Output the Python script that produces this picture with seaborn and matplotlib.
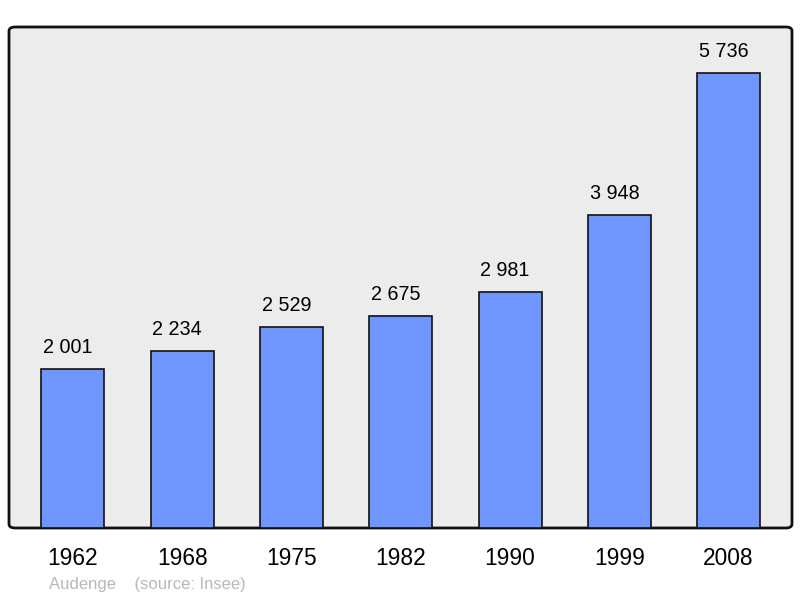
import matplotlib
matplotlib.use("Agg")
import matplotlib.pyplot as plt
from matplotlib.patches import FancyBboxPatch
import pandas as pd
import seaborn as sns

years = ["1962", "1968", "1975", "1982", "1990", "1999", "2008"]
population = [2001, 2234, 2529, 2675, 2981, 3948, 5736]
value_labels = ["2 001", "2 234", "2 529", "2 675", "2 981", "3 948", "5 736"]

df = pd.DataFrame({"year": years, "pop": population})

sns.set_style("white")
plt.rcParams["font.family"] = ["Liberation Sans", "DejaVu Sans"]

fig = plt.figure(figsize=(8, 5.98), dpi=100)
ax = fig.add_axes([9 / 800, 70 / 598, 783 / 800, 501 / 598])
ax.set_facecolor("none")

# rounded grey frame
frame = FancyBboxPatch((0, 0), 1, 1, boxstyle="round,pad=0,rounding_size=0.008",
                       transform=ax.transAxes, facecolor="#ececec",
                       edgecolor="#111111", linewidth=2, zorder=0, clip_on=False)
ax.add_patch(frame)

sns.barplot(data=df, x="year", y="pop", color="#6f96ff", width=0.577,
            edgecolor="#111111", linewidth=1.2, saturation=1, ax=ax, zorder=2)

# value labels sit a little left of the bar centre, like the original
for i, (v, lab) in enumerate(zip(population, value_labels)):
    ax.text(i - 0.045, v + 150, lab, ha="center", va="bottom", fontsize=14.2,
            color="black")

ax.set_xlim(-0.585, 6.58)
ax.set_ylim(0, 6316)
ax.set_yticks([])
ax.set_xlabel("")
ax.set_ylabel("")
ax.tick_params(axis="x", length=0, pad=14, labelsize=16.4, labelcolor="black")
for s in ax.spines.values():
    s.set_visible(False)

fig.text(49 / 800, 1 - 584 / 598, "Audenge    (source: Insee)", color="#b8b8b8",
         fontsize=12, ha="left", va="center")

fig.savefig("out.png", dpi=100)
